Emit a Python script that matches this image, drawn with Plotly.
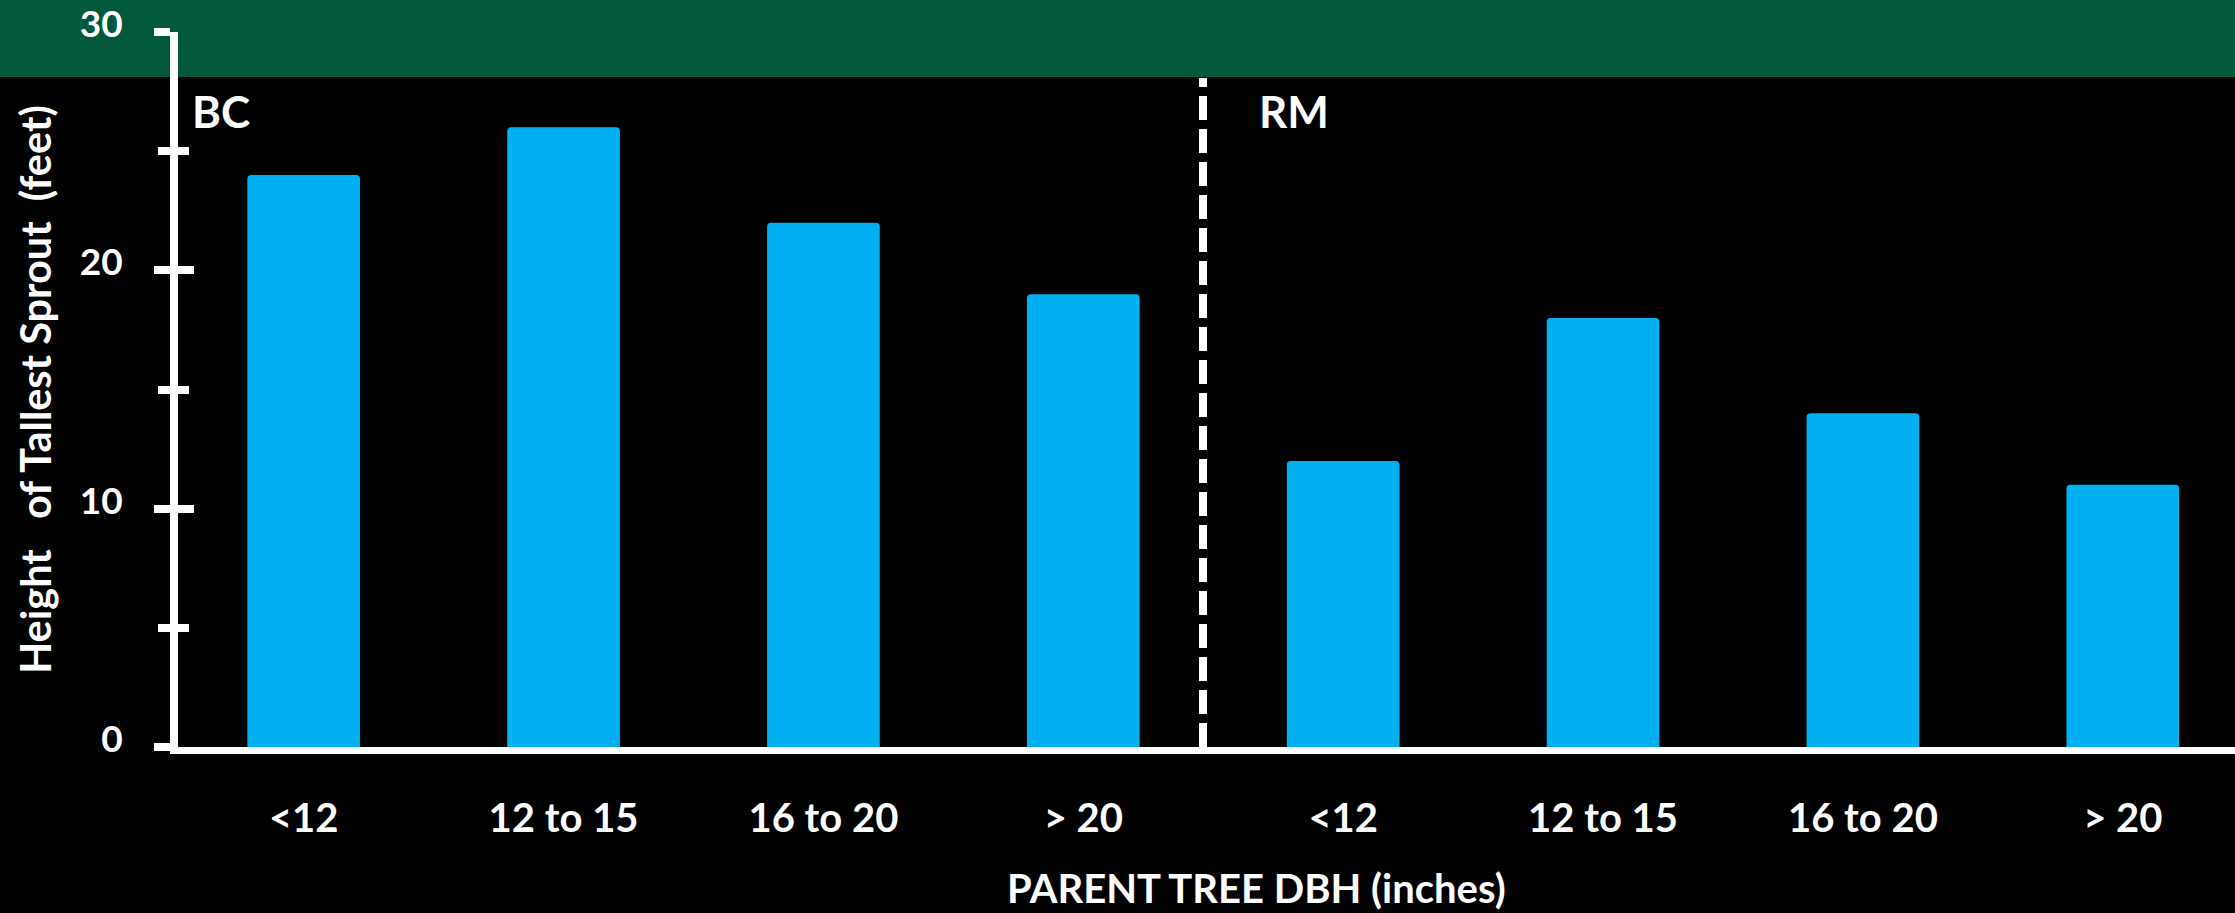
import plotly.graph_objects as go

# Sprout heights by parent-tree diameter class, for two species groups
species = ["BC", "RM"]
dbh_classes = ["<12", "12 to 15", "16 to 20", "> 20"]
bc_height = [24, 26, 22, 19]
rm_height = [12, 18, 14, 11]
y_ticks = [0, 10, 20, 30]
y_minor_ticks = [5, 15, 25]

heights = bc_height + rm_height
tick_text = dbh_classes + dbh_classes
positions = list(range(len(heights)))

W, H = 2235, 913
ML, MR, MT, MB = 178, 0, 32, 166
PLOT_H = H - MT - MB
FONT = "Lato"
WHITE = "#FFFFFF"
BAR = "#00B0F0"
BAND = "#02583A"


def py(pixel_y):
    """Pixel row (from top of page) to paper y."""
    return (H - MB - pixel_y) / PLOT_H


fig = go.Figure()
fig.add_trace(go.Bar(
    x=positions, y=heights, width=0.4337,
    marker=dict(color=BAR, line_width=0, cornerradius=4),
    hoverinfo="skip", showlegend=False,
))
# empty trace so the overlaid axis (inner tick marks) is drawn
fig.add_trace(go.Scatter(x=[None], y=[None], yaxis="y2", showlegend=False, hoverinfo="skip"))


def bold(size):
    return dict(family=FONT, size=size, color=WHITE, weight="bold")


fig.update_layout(
    width=W, height=H,
    margin=dict(l=ML, r=MR, t=MT, b=MB, pad=0),
    paper_bgcolor="black", plot_bgcolor="black",
    showlegend=False,
    xaxis=dict(
        range=[-0.4837, 7.4318], showgrid=False, zeroline=False,
        showline=True, linecolor=WHITE, linewidth=7,
        ticks="", tickvals=positions, ticktext=tick_text,
        tickfont=bold(40), ticklabelstandoff=30,
    ),
    yaxis=dict(
        range=[0, 30], showgrid=False, zeroline=False,
        showline=True, linecolor=WHITE, linewidth=8,
        tickvals=y_ticks, ticks="outside", ticklen=16, tickwidth=8, tickcolor=WHITE,
        minor=dict(ticks="outside", ticklen=12, tickwidth=8, tickcolor=WHITE,
                   tickvals=y_minor_ticks),
        tickfont=bold(37), ticklabelstandoff=24, ticklabelshift=-8,
        ticklabeloverflow="allow",
        title=dict(text="Height\u00a0\u00a0 of Tallest Sprout\u00a0\u00a0(feet)",
                   font=bold(41.5), standoff=18),
    ),
    yaxis2=dict(
        range=[0, 30], overlaying="y", side="left", showgrid=False, zeroline=False,
        showline=False, showticklabels=False,
        tickvals=y_ticks, ticks="inside", ticklen=16, tickwidth=8, tickcolor=WHITE,
        minor=dict(ticks="inside", ticklen=11, tickwidth=8, tickcolor=WHITE,
                   tickvals=y_minor_ticks),
    ),
)

# green header band across the top
fig.add_shape(type="rect", xref="paper", yref="paper",
              x0=-ML / (W - ML) - 0.01, x1=1.01, y0=py(77), y1=py(-5),
              fillcolor=BAND, line_width=0, layer="below")

# dashed divider between the two species groups
fig.add_shape(type="line", xref="x", yref="paper", x0=3.4606, x1=3.4606, y0=0, y1=py(78),
              line=dict(color=WHITE, width=8, dash="24px,9px"))

# species labels
for name, xpos in zip(species, [-0.318, 3.8126]):
    fig.add_annotation(text=name, x=xpos, xref="x", y=py(111), yref="paper",
                       showarrow=False, font=bold(44),
                       xanchor="center", yanchor="middle")

# x-axis title
fig.add_annotation(text="PARENT TREE DBH (inches)", x=(1256 - ML) / (W - ML), xref="paper",
                   y=py(888), yref="paper", showarrow=False, font=bold(40),
                   xanchor="center", yanchor="middle")

fig.write_html("out.html")
